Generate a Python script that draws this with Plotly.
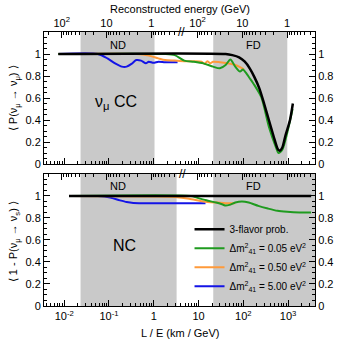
import plotly.graph_objects as go

# ---------------- data (L/E in km/GeV) ----------------
le_cc_black = [0.0074, 40.3, 56.9, 80.5, 108, 139, 177, 227, 291, 372, 476, 581, 641, 743, 863, 1104, 1279]
p_cc_black = [1.0, 1.0, 0.99, 0.97, 0.93, 0.87, 0.79, 0.69, 0.55, 0.40, 0.25, 0.14, 0.12, 0.15, 0.25, 0.40, 0.55]

le_cc_green = [0.0074, 1.79, 2.94, 4.81, 7.89, 12.9, 21.2, 29.9, 40.3, 51.5, 66.1, 84.5, 98, 119, 139, 169, 251, 372, 526, 610, 743, 952, 1260]
p_cc_green = [1.0, 1.0, 0.99, 0.94, 0.93, 0.915, 0.885, 0.87, 0.90, 0.95, 0.885, 0.84, 0.86, 0.82, 0.78, 0.73, 0.61, 0.34, 0.16, 0.10, 0.13, 0.28, 0.50]

le_cc_orange = [0.0074, 0.407, 0.575, 0.773, 1.27, 1.79, 2.94, 4.81, 7.89, 11.7, 13.6, 15.7, 18.3, 21.2, 29.9, 44.5, 66.1, 84.5, 103]
p_cc_orange = [1.0, 1.0, 0.995, 0.985, 0.96, 0.945, 0.94, 0.935, 0.935, 0.93, 0.91, 0.935, 0.915, 0.93, 0.925, 0.915, 0.90, 0.88, 0.86]

le_cc_blue = [0.0074, 0.0564, 0.0925, 0.137, 0.194, 0.248, 0.318, 0.407, 0.521, 0.667, 0.773, 0.99, 1.27, 1.79, 2.94, 3.40]
p_cc_blue = [1.0, 1.0, 0.96, 0.915, 0.885, 0.885, 0.91, 0.945, 0.94, 0.915, 0.93, 0.92, 0.93, 0.925, 0.925, 0.925]

le_nc_black = [0.0128, 3273]
p_nc_black = [1.0, 1.0]

le_nc_green = [0.0128, 6.81, 9.15, 15.0, 24.6, 34.7, 40.3, 49.1, 66.1, 93.3, 132, 216, 354, 581, 952, 1811, 3273]
p_nc_green = [1.0, 1.0, 0.985, 0.961, 0.940, 0.922, 0.913, 0.919, 0.940, 0.949, 0.940, 0.910, 0.886, 0.865, 0.856, 0.850, 0.850]

le_nc_orange = [0.0128, 1.0, 3.0, 6.17, 12.9, 27.1, 40.3, 66.1]
p_nc_orange = [1.0, 0.995, 0.99, 0.975, 0.95, 0.94, 0.935, 0.935]

le_nc_blue = [0.0128, 0.0564, 0.0796, 0.107, 0.176, 0.248, 0.351, 1.09, 14.3]
p_nc_blue = [1.0, 1.0, 0.995, 0.985, 0.96, 0.945, 0.937, 0.935, 0.935]

series_names = ["3-flavor prob.",
                "Δm<sup>2</sup><sub>41</sub> = 0.05 eV<sup>2</sup>",
                "Δm<sup>2</sup><sub>41</sub> = 0.50 eV<sup>2</sup>",
                "Δm<sup>2</sup><sub>41</sub> = 5.00 eV<sup>2</sup>"]

# detector bands (L/E)
nd_band_cc = [0.0232, 1.04]
fd_band_cc = [21.3, 960]
nd_band_nc = [0.0232, 3.24]
fd_band_nc = [21.3, 3990]

# tick labels
le_tickvals = [0.01, 0.1, 1, 10, 100, 1000]
le_ticktext = ["10<sup>-2</sup>", "10<sup>-1</sup>", "1", "10", "10<sup>2</sup>", "10<sup>3</sup>"]
L_ND = 0.88
L_FD = 950.0
energy_major = [100, 10, 1]
energy_text = ["10<sup>2</sup>", "10", "1"]
energy_minor_nd = [200, 90, 80, 70, 60, 50, 40, 30, 20, 9, 8, 7, 6, 5, 4, 3, 2, 0.9, 0.8, 0.7, 0.6, 0.5, 0.4, 0.3]
energy_minor_fd = [90, 80, 70, 60, 50, 40, 30, 20, 9, 8, 7, 6, 5, 4, 3, 2, 0.9, 0.8, 0.7, 0.6, 0.5, 0.4, 0.3]
y_tickvals = [0, 0.2, 0.4, 0.6, 0.8, 1.0]
y_ticktext = ["0", "0.2", "0.4", "0.6", "0.8", "1"]

# ---------------- styling ----------------
FONT = "Liberation Sans, Arial, Helvetica, sans-serif"
C_BLACK = "#000000"
C_GREEN = "#1f9b1f"
C_ORANGE = "#ff9a3a"
C_BLUE = "#1414e6"
SHADE = "#c9c9c9"
XRANGE = [-2.451, 3.601]

le_minor = [m * 10.0 ** d for d in range(-3, 4) for m in range(2, 10)]
y_minor = [round(0.05 * i, 2) for i in range(1, 25) if (i % 4) != 0]

e_tickvals = [L_ND / e for e in energy_major] + [L_FD / e for e in energy_major]
e_ticktext = energy_text + energy_text
e_minor = [L_ND / e for e in energy_minor_nd] + [L_FD / e for e in energy_minor_fd]

fig = go.Figure()

def add(le, p, color, width, xa, ya, name, show, rank):
    fig.add_trace(go.Scatter(x=le, y=p, mode="lines", xaxis=xa, yaxis=ya,
                             line=dict(color=color, width=width, shape="spline", smoothing=0.7),
                             name=name, showlegend=show, legendrank=rank))

# top panel (CC) -- draw order: blue, orange, green, black
add(le_cc_blue, p_cc_blue, C_BLUE, 2, "x2", "y2", series_names[3], False, 4)
add(le_cc_orange, p_cc_orange, C_ORANGE, 2, "x2", "y2", series_names[2], False, 3)
add(le_cc_green, p_cc_green, C_GREEN, 2, "x2", "y2", series_names[1], False, 2)
add(le_cc_black, p_cc_black, C_BLACK, 2.5, "x2", "y2", series_names[0], False, 1)
# bottom panel (NC)
add(le_nc_blue, p_nc_blue, C_BLUE, 2, "x", "y", series_names[3], True, 4)
add(le_nc_orange, p_nc_orange, C_ORANGE, 2, "x", "y", series_names[2], True, 3)
add(le_nc_green, p_nc_green, C_GREEN, 2, "x", "y", series_names[1], True, 2)
add(le_nc_black, p_nc_black, C_BLACK, 2.5, "x", "y", series_names[0], True, 1)

# invisible carriers so the overlaid top/right axes get drawn
for xa, ya, le, p in [("x3", "y4", le_cc_black, p_cc_black), ("x4", "y3", le_nc_black, p_nc_black)]:
    fig.add_trace(go.Scatter(x=le, y=p, mode="lines", xaxis=xa, yaxis=ya, opacity=0,
                             line=dict(width=0), showlegend=False, hoverinfo="skip"))

# shaded detector regions
for band, xr, yr in [(nd_band_cc, "x2", "y2 domain"), (fd_band_cc, "x2", "y2 domain"),
                     (nd_band_nc, "x", "y domain"), (fd_band_nc, "x", "y domain")]:
    fig.add_shape(type="rect", xref=xr, yref=yr, x0=band[0], x1=band[1], y0=0, y1=1,
                  fillcolor=SHADE, line=dict(width=0), layer="below")

tickfont = dict(family=FONT, size=11, color="black")
base_x = dict(type="log", range=XRANGE, ticks="inside", ticklen=6, tickwidth=1, tickcolor="black",
              showline=True, linecolor="black", linewidth=1, showgrid=False, zeroline=False,
              tickfont=tickfont)
lemin = dict(tickmode="array", tickvals=le_minor, ticks="inside", ticklen=3, tickcolor="black", showgrid=False)
emin = dict(tickmode="array", tickvals=e_minor, ticks="inside", ticklen=3, tickcolor="black", showgrid=False)

base_y = dict(range=[0, 1.2], ticks="inside", ticklen=6, tickwidth=1, tickcolor="black",
              showline=True, linecolor="black", linewidth=1, showgrid=False, zeroline=False,
              tickmode="array", tickvals=y_tickvals, ticktext=y_ticktext, tickfont=tickfont,
              minor=dict(tickmode="array", tickvals=y_minor, ticks="inside", ticklen=3,
                         tickcolor="black", showgrid=False))

BOT = [0, 0.4818]
TOP = [0.5182, 1]

fig.update_layout(
    width=345, height=342,
    margin=dict(l=44, r=19, t=32, b=36),
    paper_bgcolor="white", plot_bgcolor="white",
    font=dict(family=FONT, size=11, color="black"),
    xaxis=dict(base_x, anchor="y", domain=[0, 1], tickmode="array", tickvals=le_tickvals,
               ticktext=le_ticktext, minor=lemin),
    xaxis2=dict(base_x, anchor="y2", domain=[0, 1], tickmode="array", tickvals=le_tickvals,
                showticklabels=False, minor=lemin),
    xaxis3=dict(base_x, anchor="y2", overlaying="x2", side="top", tickmode="array",
                tickvals=e_tickvals, ticktext=e_ticktext, minor=emin),
    xaxis4=dict(base_x, anchor="y", overlaying="x", side="top", tickmode="array",
                tickvals=e_tickvals, showticklabels=False, minor=emin),
    yaxis=dict(base_y, domain=BOT, anchor="x"),
    yaxis2=dict(base_y, domain=TOP, anchor="x2"),
    yaxis3=dict(base_y, domain=BOT, anchor="x", overlaying="y", side="right"),
    yaxis4=dict(base_y, domain=TOP, anchor="x2", overlaying="y2", side="right"),
    legend=dict(x=0.537, y=0.333, xanchor="left", yanchor="top", bgcolor="rgba(0,0,0,0)",
                font=dict(family=FONT, size=10, color="black"), tracegroupgap=0,
                traceorder="normal"),
)

def pxx(px):
    return (px - 44) / 282.0

def pxy(py):
    return (306 - py) / 274.0

ann = [
    ("Reconstructed energy (GeV)", 186, 9, 11, 0),
    ("L / E (km / GeV)", 186, 333, 11, 0),
    ("⟨ P(ν<sub>μ</sub> → ν<sub>μ</sub>) ⟩", 13, 98, 11, -90),
    ("⟨ 1 - P(ν<sub>μ</sub> → ν<sub>s</sub>) ⟩", 13, 242, 11, -90),
    ("ND", 121, 45, 11, 0),
    ("FD", 262, 45, 11, 0),
    ("ND", 121, 186, 11, 0),
    ("FD", 262, 186, 11, 0),
    ("ν<sub>μ</sub> CC", 119, 102, 16, 0),
    ("NC", 128, 245, 16, 0),
    ("//", 187, 32, 12, 0),
    ("//", 188, 174, 12, 0),
]
for text, x, y, size, ang in ann:
    fig.add_annotation(text=text, x=pxx(x), y=pxy(y), xref="paper", yref="paper",
                       showarrow=False, xanchor="center", yanchor="middle", textangle=ang,
                       font=dict(family=FONT, size=size, color="black"))

fig.write_html("out.html", config={"displayModeBar": False},
               post_script="document.body.style.margin='0px';")
